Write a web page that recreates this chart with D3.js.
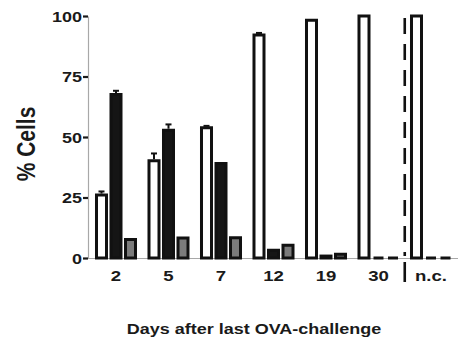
<!DOCTYPE html>
<html>
<head>
<meta charset="utf-8">
<script src="https://cdn.jsdelivr.net/npm/d3@7"></script>
<style>
  html, body { margin: 0; padding: 0; background: #fff; }
  svg { display: block; }
  text { font-family: "Liberation Sans", Arial, sans-serif; font-weight: bold; fill: #1a1a1a; }
</style>
</head>
<body>
<svg id="chart" width="459" height="347"></svg>
<script>
// Days after the last challenge (n.c. = non-challenged control)
const categories = ["2", "5", "7", "12", "19", "30", "n.c."];
const seriesNames = ["open", "filled", "grey"];

// Mean % cells per population
const openValues   = [26, 40.2, 53.8, 92.2, 98.2, 100, 100];
const filledValues = [67.6, 52.8, 39, 3.2, 0.8, 0, 0];
const greyValues   = [7.6, 8.3, 8.4, 5.3, 1.5, 0, 0];

// Upper error (SEM) per bar
const openErr   = [1.5, 3, 0.8, 0.8, 0, 0, 0];
const filledErr = [1.5, 2.4, 0, 0, 0, 0, 0];
const greyErr   = [0, 0, 0, 0, 0, 0, 0];

const yTicks = [0, 25, 50, 75, 100];

const seriesValues = [openValues, filledValues, greyValues];
const seriesErrors = [openErr, filledErr, greyErr];
const fills = { open: "#ffffff", filled: "#151515", grey: "#7b7b7b" };

const svg = d3.select("#chart");
const plotLeft = 88, plotTop = 16, plotBottom = 258, plotRight = 458;
const stretch = 1.2; // glyphs are drawn slightly wide

const y = d3.scaleLinear().domain([0, 100]).range([plotBottom, plotTop]);
const x0 = d3.scaleBand().domain(categories).range([89.75, 457.25]).paddingInner(0);
const x1 = d3.scaleBand().domain(seriesNames).range([0, x0.bandwidth()])
  .paddingInner(0.31).paddingOuter(0.465);

// Baseline (under the bars so zero-height bars show as dashes)
svg.append("line")
  .attr("x1", plotLeft).attr("x2", plotRight)
  .attr("y1", y(0) + 0.5).attr("y2", y(0) + 0.5)
  .attr("stroke", "#a8a8a8").attr("stroke-width", 1.2);

// Bars
const rows = [];
categories.forEach((c, i) => {
  seriesNames.forEach((s, j) => {
    rows.push({ cat: c, series: s, value: seriesValues[j][i], err: seriesErrors[j][i] });
  });
});

const bars = svg.append("g");
bars.selectAll("path.bar")
  .data(rows)
  .join("path")
  .attr("class", "bar")
  .attr("d", d => {
    const bx = x0(d.cat) + x1(d.series);
    const w = x1.bandwidth();
    const yt = y(d.value), yb = y(0);
    return `M${bx},${yb}V${yt}H${bx + w}V${yb}Z`;
  })
  .attr("fill", d => fills[d.series])
  .attr("stroke", "#111")
  .attr("stroke-width", 3)
  .attr("stroke-linejoin", "miter");

// Error bars (upper half only)
const errRows = rows.filter(d => d.err > 0);
const eg = svg.append("g").attr("stroke", "#111").attr("stroke-width", 2);
errRows.forEach(d => {
  const cx = x0(d.cat) + x1(d.series) + x1.bandwidth() / 2;
  eg.append("line").attr("x1", cx).attr("x2", cx)
    .attr("y1", y(d.value) - 1.5).attr("y2", y(d.value + d.err));
  eg.append("line").attr("x1", cx - 3).attr("x2", cx + 3)
    .attr("y1", y(d.value + d.err)).attr("y2", y(d.value + d.err));
});

// Y axis
const yAxis = d3.axisLeft(y).tickValues(yTicks).tickSize(5).tickSizeOuter(0).tickPadding(0);
const gy = svg.append("g").attr("transform", `translate(${plotLeft},0)`).call(yAxis);
gy.attr("font-family", null).attr("font-size", null);
gy.select(".domain").attr("stroke", "#a8a8a8").attr("stroke-width", 1.2);
gy.selectAll(".tick line").attr("stroke", "#1a1a1a").attr("stroke-width", 2.2);
gy.selectAll(".tick text")
  .attr("x", -5).attr("dy", "0.36em")
  .attr("transform", `scale(${stretch},1)`)
  .style("font-size", "15px").attr("fill", "#1a1a1a");

// X axis labels
const xAxis = d3.axisBottom(x0).tickSize(0).tickPadding(0);
const gx = svg.append("g").attr("transform", `translate(0,${y(0)})`).call(xAxis);
gx.attr("font-family", null).attr("font-size", null);
gx.select(".domain").remove();
gx.selectAll(".tick text")
  .attr("y", 23).attr("dy", 0)
  .attr("transform", `scale(${stretch},1)`)
  .style("font-size", "15.5px").attr("fill", "#1a1a1a");

// Separator between day 30 and the control group
const sepX = x0("n.c.");
svg.append("line")
  .attr("x1", sepX).attr("x2", sepX)
  .attr("y1", y(100) + 2).attr("y2", y(0) - 2)
  .attr("stroke", "#111").attr("stroke-width", 2.6)
  .attr("stroke-dasharray", "16,10");
svg.append("line")
  .attr("x1", sepX).attr("x2", sepX)
  .attr("y1", y(0) + 4).attr("y2", y(0) + 24)
  .attr("stroke", "#111").attr("stroke-width", 2.6);

// Axis titles
svg.append("text")
  .attr("transform", `translate(35,144) scale(${stretch},1) rotate(-90)`)
  .attr("text-anchor", "middle")
  .style("font-size", "21px")
  .text("% Cells");

svg.append("text")
  .attr("transform", `translate(254,334) scale(${stretch},1)`)
  .attr("text-anchor", "middle")
  .style("font-size", "15px")
  .text("Days after last OVA-challenge");
</script>
</body>
</html>
